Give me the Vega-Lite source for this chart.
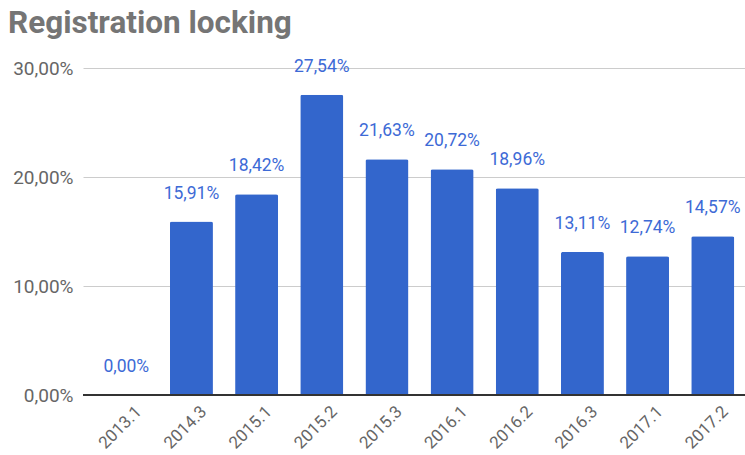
{
  "$schema": "https://vega.github.io/schema/vega-lite/v6.json",
  "autosize": {"type": "none"},
  "padding": {"left": 83, "top": 68, "right": 0, "bottom": 60},
  "width": 673,
  "height": 327,
  "config": {
    "locale": {"number": {"decimal": ",", "thousands": ".", "grouping": [3], "currency": ["", " €"]}},
    "view": {"stroke": null},
    "font": "Roboto"
  },
  "title": {
    "text": "Registration locking",
    "font": "Roboto",
    "fontSize": 31.5,
    "fontWeight": "bold",
    "color": "#757575",
    "anchor": "start",
    "frame": "group",
    "dx": -75,
    "dy": 8,
    "offset": 26
  },
  "data": {
    "values": [
      {"period": "2013.1", "value": 0.0},
      {"period": "2014.3", "value": 0.1591},
      {"period": "2015.1", "value": 0.1842},
      {"period": "2015.2", "value": 0.2754},
      {"period": "2015.3", "value": 0.2163},
      {"period": "2016.1", "value": 0.2072},
      {"period": "2016.2", "value": 0.1896},
      {"period": "2016.3", "value": 0.1311},
      {"period": "2017.1", "value": 0.1274},
      {"period": "2017.2", "value": 0.1457}
    ]
  },
  "encoding": {
    "x": {
      "field": "period",
      "type": "nominal",
      "sort": null,
      "scale": {"paddingInner": 0.34, "paddingOuter": 0.334},
      "axis": {
        "title": null,
        "labelAngle": -45,
        "labelFontSize": 17,
        "labelColor": "#666666",
        "labelFont": "Roboto",
        "ticks": false,
        "domain": false,
        "labelPadding": 8,
        "labelOffset": 7
      }
    },
    "y": {
      "field": "value",
      "type": "quantitative",
      "scale": {"domain": [0, 0.3]},
      "axis": {
        "title": null,
        "format": ".2%",
        "values": [0, 0.1, 0.2, 0.3],
        "labelFontSize": 19,
        "labelColor": "#666666",
        "labelFont": "Roboto",
        "ticks": false,
        "domain": false,
        "labelPadding": 10,
        "gridColor": "#cccccc",
        "gridWidth": 1
      }
    }
  },
  "layer": [
    {
      "mark": {"type": "bar", "color": "#3366cc", "cornerRadiusTopLeft": 2, "cornerRadiusTopRight": 2}
    },
    {
      "mark": {"type": "text", "color": "#3d6ad6", "fontSize": 17.5, "font": "Roboto", "baseline": "middle", "dy": -28},
      "encoding": {"text": {"field": "value", "type": "quantitative", "format": ".2%"}}
    },
    {
      "data": {"values": [{"y0": 0}]},
      "mark": {"type": "rule", "color": "#333333", "strokeWidth": 2},
      "encoding": {"y": {"field": "y0", "type": "quantitative"}, "x": null}
    }
  ]
}
